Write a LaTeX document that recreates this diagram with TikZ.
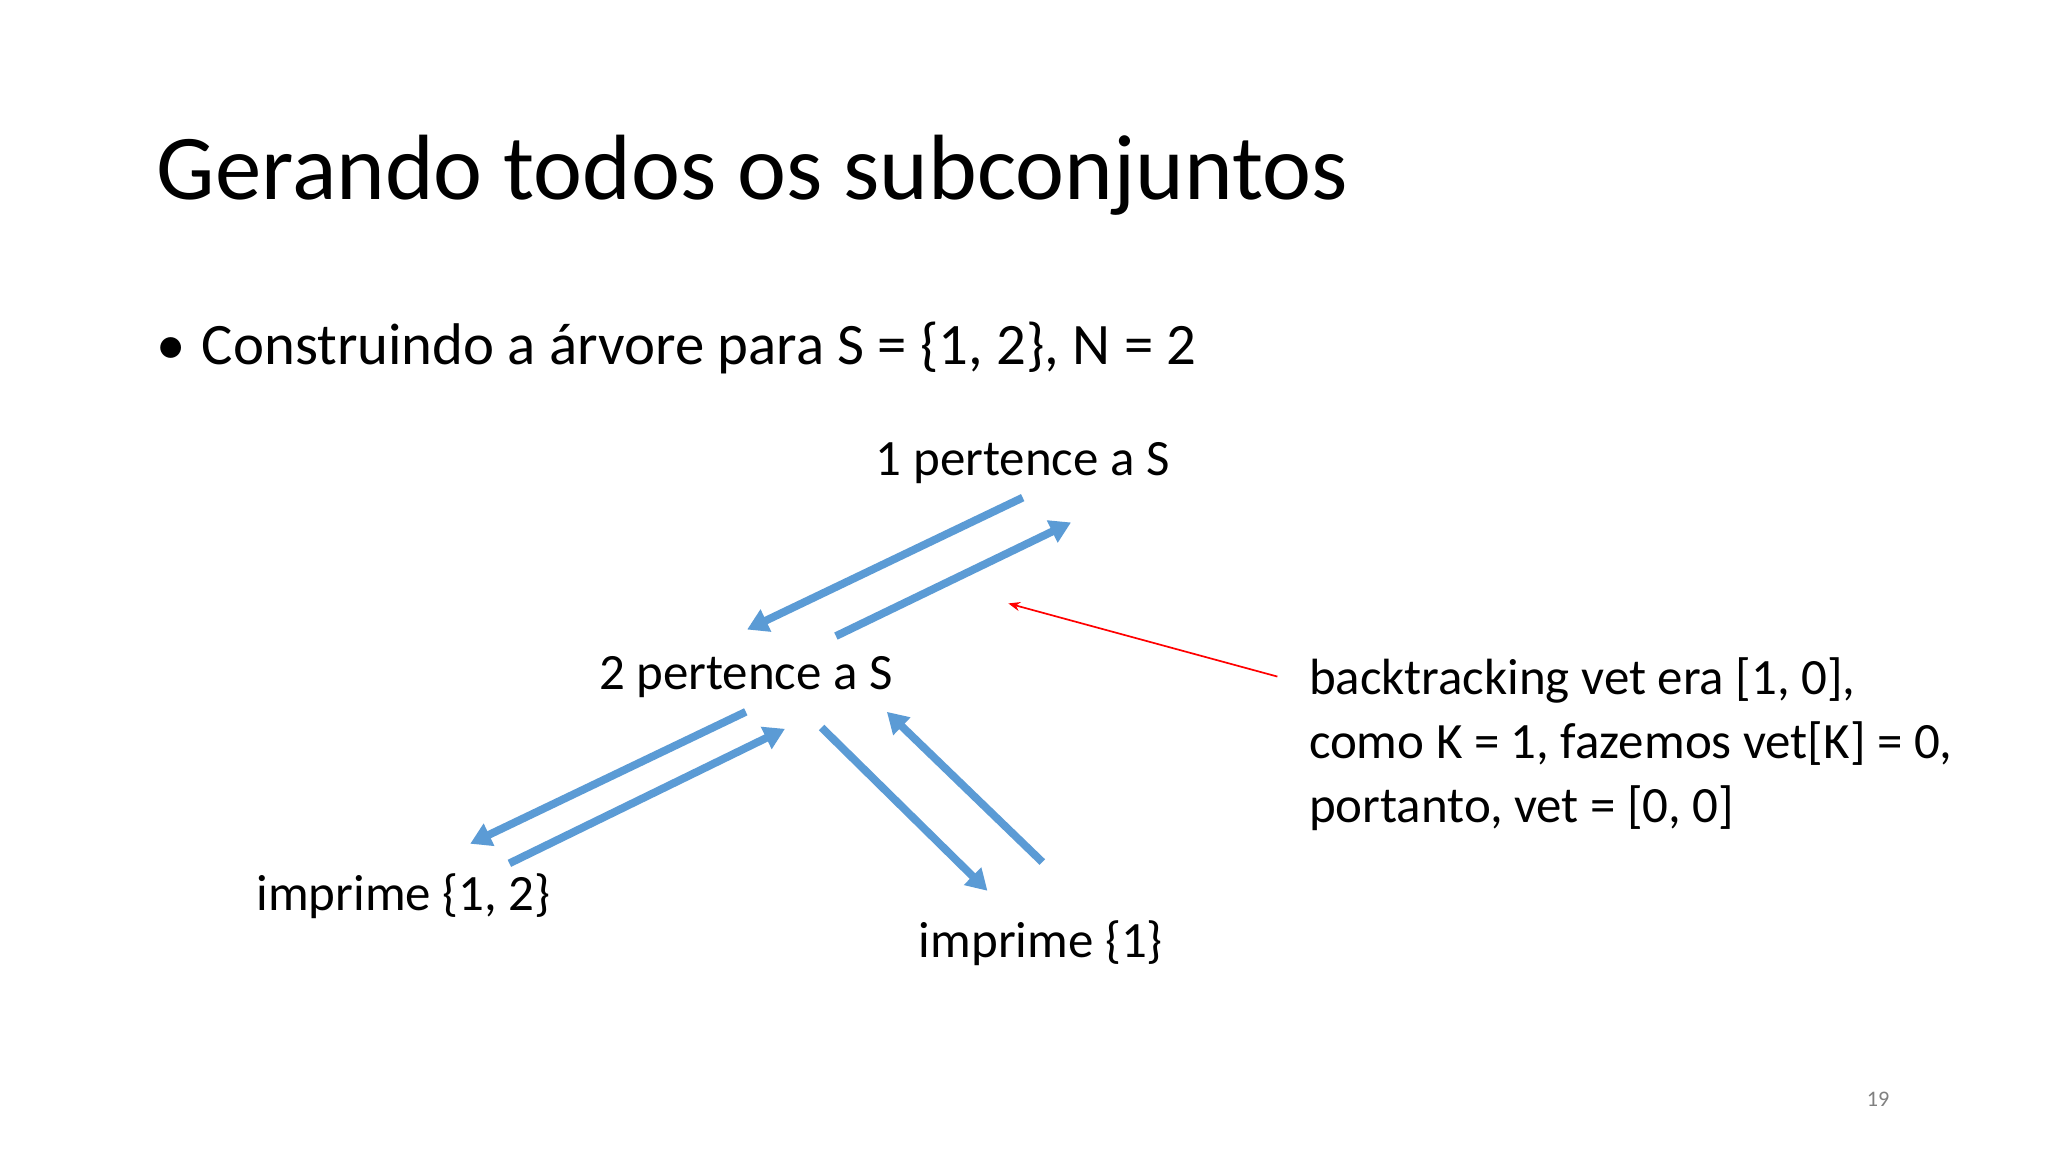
\documentclass[tikz,border=0pt]{standalone}
\usepackage{fontspec}
\setmainfont{Carlito}
\usetikzlibrary{arrows.meta}
\definecolor{ablue}{RGB}{91,155,213}
\tikzset{
  barrow/.style={draw=ablue,line width=6pt,-{Triangle[length=16pt,width=18pt]}},
  lbl/.style={font=\fontsize{39}{46}\selectfont,inner sep=0pt}
}
\begin{document}
\begin{tikzpicture}[x=1pt,y=-1pt]
\useasboundingbox[fill=white] (0,0) rectangle (1568,882);
\node[anchor=base west,inner sep=0pt,font=\fontsize{71}{80}\selectfont] (title) at (120,153) {Gerando todos os subconjuntos};
\node[anchor=base west,inner sep=0pt,font=\fontsize{45}{52}\selectfont] (bul) at (120,279) {\textbullet\hspace{12pt}Construindo a árvore para S = \{1, 2\}, N = 2};
\node[lbl,anchor=base] (n1) at (783,364) {1 pertence a S};
\node[lbl,anchor=base] (n2) at (571,528) {2 pertence a S};
\node[lbl,anchor=base] (n3) at (309,697) {imprime \{1, 2\}};
\node[lbl,anchor=base] (n4) at (797,733) {imprime \{1\}};
\node[lbl,anchor=north west,align=left,font=\fontsize{39}{49}\selectfont] (bt) at (1002,503) {backtracking vet era [1, 0],\\como K = 1, fazemos vet[K] = 0,\\portanto, vet = [0, 0]};
\node[anchor=base,inner sep=0pt,text=gray,font=\fontsize{17}{20}\selectfont] (pg) at (1438,847) {19};
\coordinate (a1s) at (783,381); \coordinate (a1e) at (572,482);
\coordinate (a2s) at (640,487); \coordinate (a2e) at (820,400);
\coordinate (a3s) at (571,545); \coordinate (a3e) at (360,646);
\coordinate (a4s) at (390,661); \coordinate (a4e) at (601,558);
\coordinate (a5s) at (629,557); \coordinate (a5e) at (756,682);
\coordinate (a6s) at (798,660); \coordinate (a6e) at (679,545);
\coordinate (rs) at (978,518); \coordinate (re) at (772,462);
\draw[barrow] (a1s) -- (a1e);
\draw[barrow] (a2s) -- (a2e);
\draw[barrow] (a3s) -- (a3e);
\draw[barrow] (a4s) -- (a4e);
\draw[barrow] (a5s) -- (a5e);
\draw[barrow] (a6s) -- (a6e);
\draw[red,line width=1.3pt,-{Stealth[length=9pt,width=7pt]}] (rs) -- (re);
\end{tikzpicture}
\end{document}
